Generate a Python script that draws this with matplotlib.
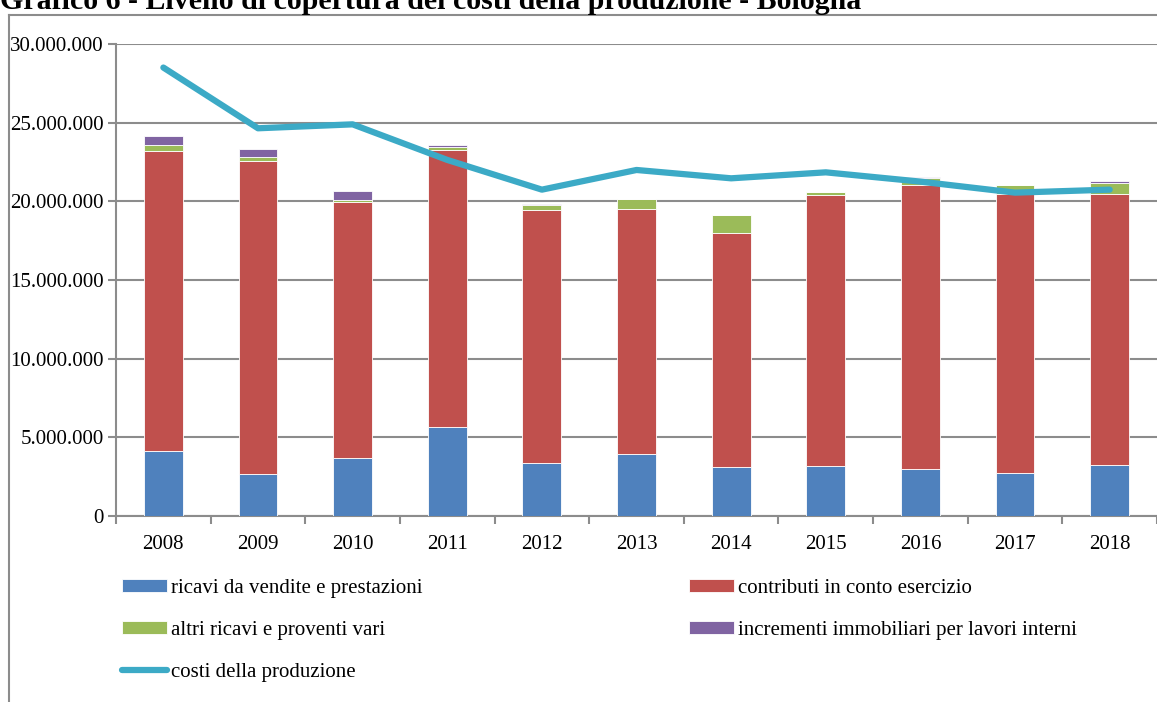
import numpy as np
import matplotlib
matplotlib.use("Agg")
import matplotlib.pyplot as plt
from matplotlib.ticker import FuncFormatter, FixedLocator
from matplotlib.lines import Line2D

plt.rcParams['font.family'] = ['Liberation Serif', 'DejaVu Serif']

anni = ['2008', '2009', '2010', '2011', '2012', '2013', '2014', '2015', '2016', '2017', '2018']
ricavi_vendite = [4150000, 2650000, 3710000, 5640000, 3350000, 3960000, 3110000, 3160000, 2970000, 2750000, 3220000]
contributi = [19070000, 19910000, 16230000, 17640000, 16120000, 15570000, 14900000, 17260000, 18090000, 17700000, 17230000]
altri_ricavi = [380000, 280000, 140000, 150000, 280000, 600000, 1120000, 150000, 440000, 570000, 740000]
incrementi = [550000, 460000, 580000, 150000, 80000, 20000, 0, 20000, 20000, 20000, 100000]
costi_produzione = [28500000, 24640000, 24890000, 22630000, 20740000, 21990000, 21460000, 21840000, 21250000, 20550000, 20740000]

c_blu = '#4F81BD'
c_rosso = '#C0504D'
c_verde = '#9BBB59'
c_viola = '#8064A2'
c_linea = '#3CAAC6'
grigio = '#8C8C8C'

fig = plt.figure(figsize=(11.57, 7.02), dpi=100)
ax = fig.add_axes([0.1003, 0.265, 0.8997, 0.6724])

x = np.arange(len(anni))
w = 0.41
serie = [(ricavi_vendite, c_blu, 'ricavi da vendite e prestazioni'),
         (contributi, c_rosso, 'contributi in conto esercizio'),
         (altri_ricavi, c_verde, 'altri ricavi e proventi vari'),
         (incrementi, c_viola, 'incrementi immobiliari per lavori interni')]
base = np.zeros(len(anni))
handles = {}
for valori, col, nome in serie:
    b = ax.bar(x, valori, w, bottom=base, color=col, edgecolor='#ffffff', linewidth=0.6, zorder=3, label=nome)
    handles[nome] = b
    base = base + np.array(valori)

linea, = ax.plot(x, costi_produzione, color=c_linea, lw=4.5, zorder=4, solid_capstyle='round',
                 label='costi della produzione')

ax.set_xlim(-0.5, len(anni) - 0.5)
ax.set_ylim(0, 30000000)
ax.set_yticks(np.arange(0, 30000001, 5000000))
ax.yaxis.set_major_formatter(FuncFormatter(lambda v, p: '0' if v == 0 else f'{int(v):,}'.replace(',', '.')))
ax.grid(axis='y', color=grigio, lw=1.5, zorder=0)
ax.set_axisbelow(True)

ax.set_xticks(x)
ax.set_xticklabels(anni)
ax.xaxis.set_minor_locator(FixedLocator(np.arange(-0.5, len(anni), 1)))
ax.tick_params(axis='x', which='major', length=0, pad=14, labelsize=15)
ax.tick_params(axis='x', which='minor', length=6, width=1.5, color=grigio)
ax.tick_params(axis='y', length=6, width=1.5, color=grigio, labelsize=15, pad=3)

for s in ['top', 'right']:
    ax.spines[s].set_visible(False)
for s in ['left', 'bottom']:
    ax.spines[s].set_color(grigio)
    ax.spines[s].set_linewidth(1.5)

# cornice del grafico
fig.add_artist(Line2D([9 / 1157, 9 / 1157], [0, 1 - 15 / 702], transform=fig.transFigure, color=grigio, lw=1.5))
fig.add_artist(Line2D([9 / 1157, 1], [1 - 15 / 702, 1 - 15 / 702], transform=fig.transFigure, color=grigio, lw=1.5))

fig.text(0.0, 1 - 9 / 702, 'Grafico 6 - Livello di copertura dei costi della produzione - Bologna',
         fontsize=21.5, fontweight='bold', ha='left', va='baseline')

ordine = [handles['ricavi da vendite e prestazioni'], handles['altri ricavi e proventi vari'], linea,
          handles['contributi in conto esercizio'], handles['incrementi immobiliari per lavori interni']]
fig.legend(ordine, [h.get_label() for h in ordine], ncol=2, loc='upper left',
           bbox_to_anchor=(103 / 1157, 1 - 560 / 702), frameon=False, fontsize=15,
           handlelength=2.15, handleheight=0.55, handletextpad=0.2, labelspacing=1.1, columnspacing=12.8)

fig.savefig('out.png', dpi=100)
